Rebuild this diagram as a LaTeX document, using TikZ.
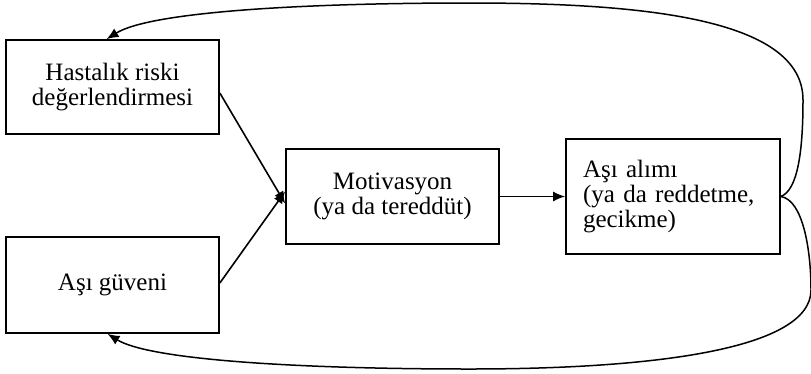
\documentclass[tikz,border=0pt]{standalone}
\usepackage{fontspec}
\setmainfont{Liberation Serif}
\usetikzlibrary{arrows.meta}
\begin{document}
\begin{tikzpicture}[x=1pt,y=-1pt,
  box/.style={draw, line width=1.7pt, inner sep=0pt, font=\fontsize{25}{25}\selectfont},
  conn/.style={line width=1.6pt, -{Latex[length=12pt,width=10pt]}},
  loop/.style={line width=1.5pt, -{Latex[length=12pt,width=10pt]}}]
\useasboundingbox (0,0) rectangle (811,373);
\node[box, minimum width=213pt, minimum height=94pt, align=center] (h) at (112.5,87) {Hastalık riski\\değerlendirmesi};
\node[box, minimum width=213pt, minimum height=96pt, align=center] (g) at (112.5,285) {Aşı güveni};
\node[box, minimum width=213pt, minimum height=95pt, align=center] (m) at (392.5,196.5) {Motivasyon\\(ya da tereddüt)};
\node[box, minimum height=115pt, text width=180pt, inner xsep=17pt, align=left] (a) at (673,196.5) {Aşı alımı\\(ya da reddetme,\\gecikme)};
\draw[conn] ([yshift=-6pt]h.east) -- ([yshift=-7pt]m.west);
\draw[conn] ([yshift=2pt]g.east) -- ([yshift=5pt]m.west);
\draw[conn] (m.east) -- (a.west);
\draw[loop] (a.east) .. controls (798,190) and (803,150) .. (803,100) .. controls (803,20) and (650,3) .. (470,3) .. controls (300,3) and (150,12) .. ([xshift=-6pt]h.north);
\draw[loop] (a.east) .. controls (803,200) and (811,250) .. (811,290) .. controls (811,350) and (650,369) .. (470,369) .. controls (300,369) and (150,360) .. ([xshift=-5pt]g.south);
\end{tikzpicture}
\end{document}
